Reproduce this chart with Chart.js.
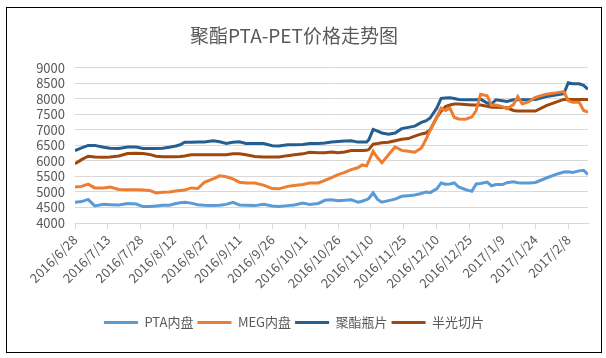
<!DOCTYPE html>
<html>
<head>
<meta charset="utf-8">
<script src="https://cdn.jsdelivr.net/npm/chart.js@4.4.1/dist/chart.umd.min.js"></script>
<style>
  html, body { margin: 0; padding: 0; background: #fff; }
  #wrap { position: relative; width: 606px; height: 358px; }
  #frame { position: absolute; left: 6px; top: 7px; width: 594px; height: 344px; border: 1px solid #000; pointer-events: none; }
  canvas { position: absolute; left: 0; top: 0; }
</style>
</head>
<body>
<div id="wrap">
  <canvas id="myChart" width="606" height="358"></canvas>
  <div id="frame"></div>
</div>
<script>
// 日期
const dates = [
  '2016/6/28', '2016/7/1', '2016/7/4', '2016/7/7', '2016/7/11', '2016/7/14', '2016/7/18', '2016/7/22',
  '2016/7/26', '2016/7/29', '2016/8/1', '2016/8/4', '2016/8/7', '2016/8/10', '2016/8/13', '2016/8/15',
  '2016/8/17', '2016/8/20', '2016/8/23', '2016/8/26', '2016/8/30', '2016/9/2', '2016/9/5', '2016/9/8',
  '2016/9/11', '2016/9/14', '2016/9/18', '2016/9/22', '2016/9/26', '2016/9/29', '2016/10/3', '2016/10/6',
  '2016/10/10', '2016/10/13', '2016/10/17', '2016/10/20', '2016/10/23', '2016/10/26', '2016/10/29', '2016/11/1',
  '2016/11/4', '2016/11/6', '2016/11/8', '2016/11/9', '2016/11/11', '2016/11/13', '2016/11/15', '2016/11/18',
  '2016/11/21', '2016/11/24', '2016/11/27', '2016/11/30', '2016/12/3', '2016/12/5', '2016/12/7', '2016/12/10',
  '2016/12/12', '2016/12/14', '2016/12/16', '2016/12/18', '2016/12/20', '2016/12/23', '2016/12/26', '2016/12/28',
  '2016/12/30', '2017/1/2', '2017/1/4', '2017/1/6', '2017/1/9', '2017/1/11', '2017/1/14', '2017/1/16',
  '2017/1/18', '2017/1/21', '2017/1/24', '2017/1/29', '2017/2/3', '2017/2/6', '2017/2/8', '2017/2/10',
  '2017/2/13', '2017/2/15', '2017/2/17'
];

const ptaPrices = [
  4670, 4690, 4760, 4550, 4600, 4590, 4580, 4630, 4610, 4530, 4530, 4550, 4570, 4570, 4630, 4650,
  4670, 4640, 4590, 4570, 4560, 4570, 4600, 4665, 4580, 4570, 4560, 4600, 4550, 4530, 4560, 4580,
  4640, 4600, 4630, 4730, 4750, 4720, 4730, 4750, 4670, 4700, 4750, 4790, 4970, 4760, 4670, 4720,
  4770, 4860, 4880, 4900, 4950, 5000, 4980, 5100, 5290, 5250, 5260, 5290, 5160, 5080, 5020, 5260,
  5270, 5320, 5200, 5240, 5240, 5300, 5330, 5300, 5290, 5290, 5305, 5450, 5580, 5640, 5650, 5630,
  5680, 5700, 5560
];

const megPrices = [
  5160, 5180, 5250, 5130, 5125, 5155, 5080, 5070, 5070, 5060, 5050, 4970, 4990, 5000, 5030, 5050,
  5060, 5130, 5110, 5310, 5420, 5520, 5490, 5420, 5315, 5290, 5285, 5220, 5110, 5100, 5180, 5210,
  5240, 5285, 5290, 5370, 5460, 5560, 5630, 5720, 5780, 5870, 5840, 5990, 6310, 6100, 5945, 6200,
  6450, 6340, 6310, 6280, 6420, 6680, 6995, 7415, 7700, 7620, 7700, 7400, 7350, 7340, 7415, 7625,
  8150, 8100, 7790, 7800, 7750, 7680, 7815, 8075, 7835, 7908, 8045, 8150, 8200, 8233, 7940, 7887,
  7887, 7625, 7572
];

const bottlePrices = [
  6330, 6420, 6500, 6500, 6440, 6410, 6400, 6450, 6450, 6400, 6400, 6400, 6410, 6440, 6480, 6520,
  6600, 6600, 6606, 6610, 6648, 6620, 6564, 6600, 6620, 6564, 6564, 6560, 6490, 6480, 6520, 6520,
  6530, 6564, 6564, 6580, 6610, 6627, 6640, 6648, 6606, 6606, 6606, 6680, 7015, 6960, 6900, 6858,
  6900, 7040, 7080, 7120, 7240, 7290, 7383, 7700, 8013, 8030, 8034, 8013, 7980, 7970, 7970, 7970,
  7990, 7865, 7835, 7970, 7940, 7918, 7970, 7970, 7970, 7970, 7980, 8075, 8130, 8170, 8517, 8485,
  8485, 8433, 8307
];

const chipPrices = [
  5910, 6040, 6150, 6130, 6120, 6130, 6160, 6240, 6250, 6240, 6210, 6150, 6135, 6135, 6135, 6140,
  6160, 6200, 6200, 6200, 6200, 6200, 6200, 6230, 6230, 6200, 6140, 6123, 6123, 6123, 6170, 6200,
  6228, 6280, 6260, 6260, 6290, 6260, 6290, 6333, 6333, 6333, 6340, 6365, 6540, 6560, 6585, 6600,
  6650, 6700, 6720, 6800, 6870, 6900, 7000, 7400, 7600, 7750, 7800, 7830, 7835, 7820, 7800, 7800,
  7800, 7760, 7730, 7730, 7720, 7710, 7625, 7605, 7605, 7605, 7605, 7780, 7908, 7982, 7982, 7982,
  7982, 7982, 7982
];

const seriesNames = ['PTA内盘', 'MEG内盘', '聚酯瓶片', '半光切片'];
const seriesColors = ['#5B9BD5', '#ED7D31', '#255E91', '#9E480E'];

const startDate = new Date(2016, 5, 28);
function dayOffset(s) {
  const [y, m, d] = s.split('/').map(Number);
  return Math.round((new Date(y, m - 1, d) - startDate) / 86400000);
}
function dayLabel(n) {
  const d = new Date(2016, 5, 28 + n);
  return d.getFullYear() + '/' + (d.getMonth() + 1) + '/' + d.getDate();
}
const xs = dates.map(dayOffset);
const toPoints = vals => vals.map((v, i) => ({ x: xs[i], y: v }));

const font = "'Noto Sans CJK SC', 'Open Sans', sans-serif";
const textColor = '#595959';

const ctx = document.getElementById('myChart').getContext('2d');
const chart = new Chart(ctx, {
  type: 'line',
  data: {
    datasets: [ptaPrices, megPrices, bottlePrices, chipPrices].map((vals, i) => ({
      label: seriesNames[i],
      data: toPoints(vals),
      borderColor: seriesColors[i],
      backgroundColor: seriesColors[i],
      borderWidth: 3,
      pointRadius: 0,
      tension: 0,
      fill: false
    }))
  },
  options: {
    responsive: false,
    animation: false,
    layout: { padding: { left: 0, right: 18, top: 0, bottom: 19 } },
    plugins: {
      title: {
        display: true,
        text: '聚酯PTA-PET价格走势图',
        color: textColor,
        font: { family: font, size: 19, weight: 'normal' },
        padding: { top: 24, bottom: 21 }
      },
      legend: {
        position: 'bottom',
        labels: {
          color: textColor,
          font: { family: font, size: 13 },
          boxWidth: 34,
          boxHeight: 3,
          padding: 4,
          generateLabels: (c) => Chart.defaults.plugins.legend.labels.generateLabels(c).map(l => ({ ...l, lineWidth: 0 }))
        }
      },
      tooltip: { enabled: false }
    },
    scales: {
      x: {
        type: 'linear',
        min: 0,
        max: 234,
        afterFit: (scale) => { scale.height = 89; },
        grid: { drawOnChartArea: false, drawTicks: true, tickLength: 6, color: '#d9d9d9' },
        border: { color: '#d9d9d9' },
        ticks: {
          stepSize: 15,
          includeBounds: false,
          autoSkip: false,
          maxRotation: 45,
          minRotation: 45,
          color: textColor,
          font: { family: font, size: 13 },
          callback: (v) => dayLabel(v)
        }
      },
      y: {
        min: 4000,
        max: 9000,
        afterFit: (scale) => { scale.width = 75; },
        grid: { color: '#d9d9d9', drawTicks: false },
        border: { display: false },
        ticks: {
          stepSize: 500,
          autoSkip: false,
          padding: 10,
          color: textColor,
          font: { family: font, size: 13 },
          callback: (v) => String(v)
        }
      }
    }
  }
});
</script>
</body>
</html>
